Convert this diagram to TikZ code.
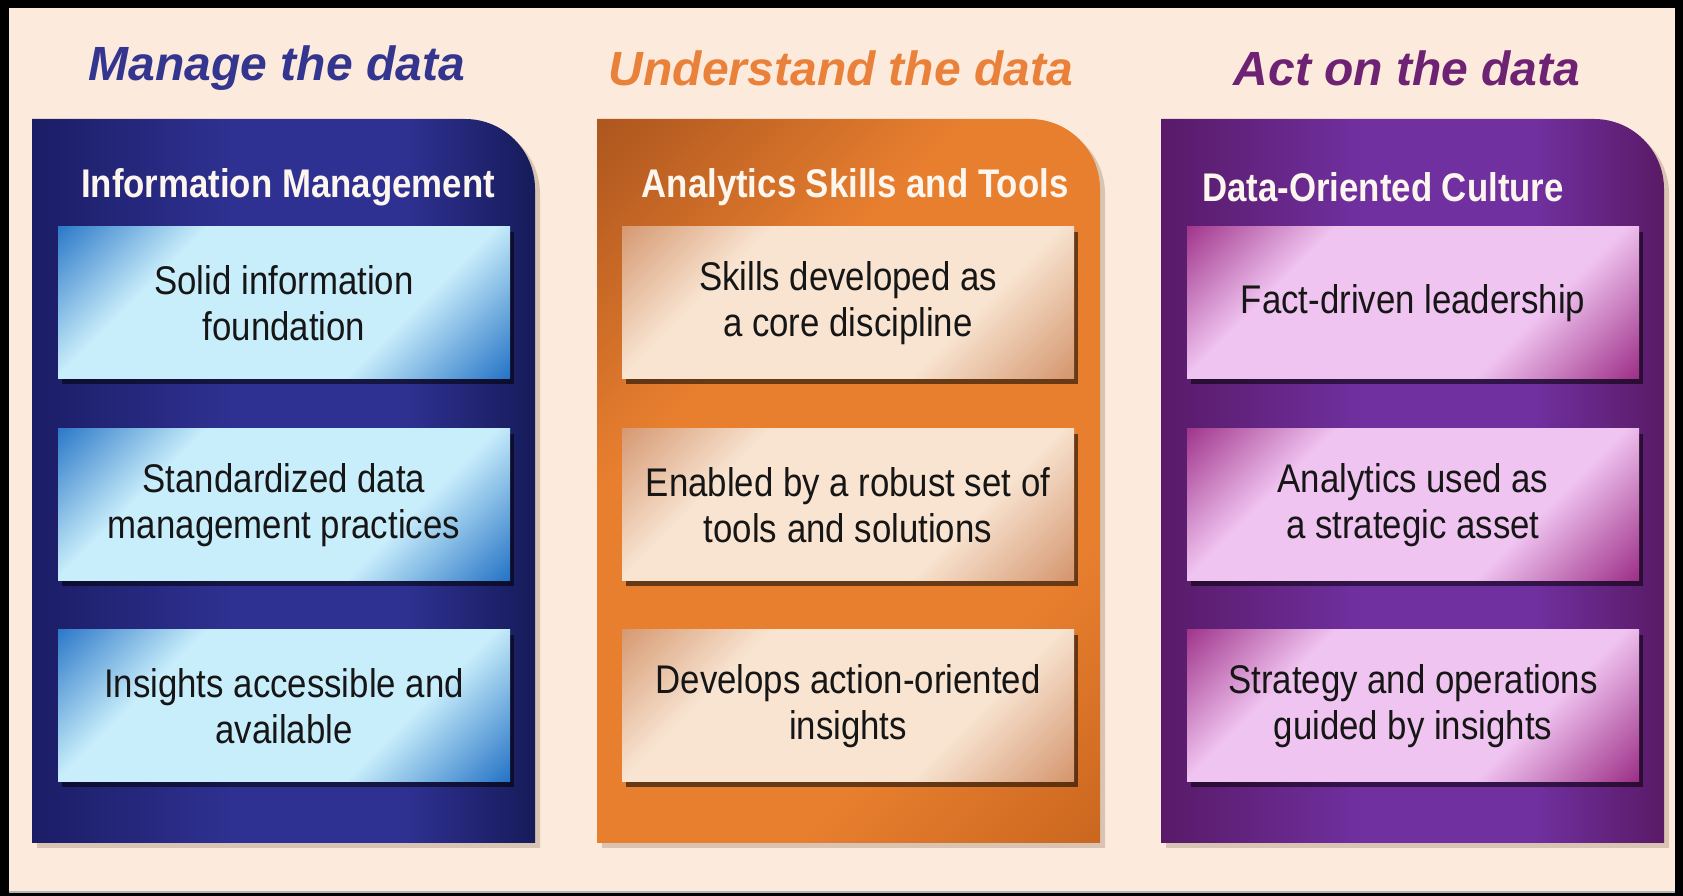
\documentclass[tikz,border=0pt]{standalone}
\usepackage{fontspec}
\setmainfont{Liberation Sans}
\newfontfamily\narrowfont[FakeStretch=0.87]{Liberation Sans}
\usetikzlibrary{shadows}

\definecolor{bgcream}{HTML}{FCEBDC}
\definecolor{headblue}{HTML}{33358F}
\definecolor{headorange}{HTML}{E9813A}
\definecolor{headpurple}{HTML}{6E2273}
\definecolor{titlewhite}{HTML}{FDF6EE}
\definecolor{itemtext}{HTML}{161616}
\definecolor{shadowbrown}{HTML}{8A6A55}

% panel colours
\definecolor{pblueA}{HTML}{1B1D66}
\definecolor{pblueB}{HTML}{2F3192}
\definecolor{pblueC}{HTML}{161B5A}
\definecolor{porangeA}{HTML}{AE571F}
\definecolor{porangeB}{HTML}{E87F2F}
\definecolor{porangeC}{HTML}{C9661E}
\definecolor{ppurpleA}{HTML}{581A68}
\definecolor{ppurpleB}{HTML}{7030A0}
\definecolor{ppurpleC}{HTML}{5A1A66}

% box colours
\definecolor{bblueL}{HTML}{C9EEFB}
\definecolor{bblueD}{HTML}{1F6FC4}
\definecolor{borangeL}{HTML}{F8E4D1}
\definecolor{borangeD}{HTML}{D3936A}
\definecolor{bpurpleL}{HTML}{F0C4F0}
\definecolor{bpurpleD}{HTML}{9A2A84}

\pgfdeclarehorizontalshading{bluepanel}{100bp}{color(0bp)=(pblueA); color(25bp)=(pblueA); color(45bp)=(pblueB); color(62bp)=(pblueB); color(75bp)=(pblueC); color(100bp)=(pblueC)}
\pgfdeclarehorizontalshading{orangepanel}{100bp}{color(0bp)=(porangeA); color(15bp)=(porangeA); color(36bp)=(porangeB); color(68bp)=(porangeB); color(86bp)=(porangeC); color(100bp)=(porangeC)}
\pgfdeclarehorizontalshading{purplepanel}{100bp}{color(0bp)=(ppurpleA); color(25bp)=(ppurpleA); color(45bp)=(ppurpleB); color(62bp)=(ppurpleB); color(75bp)=(ppurpleC); color(100bp)=(ppurpleC)}
\pgfdeclarehorizontalshading{blueitem}{100bp}{color(0bp)=(bblueD); color(13bp)=(bblueD); color(32bp)=(bblueL); color(66bp)=(bblueL); color(86bp)=(bblueD); color(100bp)=(bblueD)}
\pgfdeclarehorizontalshading{orangeitem}{100bp}{color(0bp)=(borangeD); color(13bp)=(borangeD); color(32bp)=(borangeL); color(66bp)=(borangeL); color(86bp)=(borangeD); color(100bp)=(borangeD)}
\pgfdeclarehorizontalshading{purpleitem}{100bp}{color(0bp)=(bpurpleD); color(13bp)=(bpurpleD); color(32bp)=(bpurpleL); color(66bp)=(bpurpleL); color(86bp)=(bpurpleD); color(100bp)=(bpurpleD)}

\tikzset{
	heading/.style={font=\fontsize{48}{56}\selectfont\bfseries\itshape},
	paneltitle/.style={font=\narrowfont\fontsize{40}{48}\selectfont\bfseries, text=titlewhite},
	panel/.style={drop shadow={shadow xshift=5pt, shadow yshift=-5pt, opacity=.3, fill=shadowbrown}},
	itembox/.style={shade, shading angle=-45, minimum width=452pt, minimum height=152pt, inner sep=0pt,
		align=center, font=\narrowfont\fontsize{40}{46}\selectfont, text=itemtext,
		drop shadow={shadow xshift=4pt, shadow yshift=-5pt, opacity=.55, fill=black}},
}

\begin{document}
\begin{tikzpicture}[x=1pt,y=1pt]
		\useasboundingbox (0,0) rectangle (1683,896);
		\fill[black] (0,0) rectangle (1683,896);
		\fill[bgcream] (9,4) rectangle (1675,888);
		\draw[gray!60, line width=1.5pt] (9,4) -- (1675,4);

		% headings
		\node[heading, text=headblue] (H1) at (277,828) {Manage the data};
		\node[heading, text=headorange] (H2) at (841,828) {Understand the data};
		\node[heading, text=headpurple] (H3) at (1407,828) {Act on the data};

		% panels
		\shade[panel, shading=bluepanel] (32,53) -- (32,777) -- (465,777) arc[start angle=90, end angle=0, radius=70pt] -- (535,53) -- cycle;
		\shade[panel, shading=orangepanel, shading angle=-45] (597,53) -- (597,777) -- (1030,777) arc[start angle=90, end angle=0, radius=70pt] -- (1100,53) -- cycle;
		\shade[panel, shading=purplepanel] (1161,53) -- (1161,777) -- (1594,777) arc[start angle=90, end angle=0, radius=70pt] -- (1664,53) -- cycle;

		\node[paneltitle] (T1) at (288,709) {Information Management};
		\node[paneltitle] (T2) at (855,709) {Analytics Skills and Tools};
		\node[paneltitle] (T3) at (1383,709) {Data-Oriented Culture};

		% boxes
		\node[itembox, shading=blueitem] (B1) at (284,593) {Solid information\\foundation};
		\node[itembox, shading=blueitem] (B2) at (284,391) {Standardized data\\management practices};
		\node[itembox, shading=blueitem] (B3) at (284,190) {Insights accessible and\\available};

		\node[itembox, shading=orangeitem] (C1) at (848,593) {Skills developed as\\a core discipline};
		\node[itembox, shading=orangeitem] (C2) at (848,391) {Enabled by a robust set of\\tools and solutions};
		\node[itembox, shading=orangeitem] (C3) at (848,190) {Develops action-oriented\\insights};

		\node[itembox, shading=purpleitem] (D1) at (1413,593) {Fact-driven leadership};
		\node[itembox, shading=purpleitem] (D2) at (1413,391) {Analytics used as\\a strategic asset};
		\node[itembox, shading=purpleitem] (D3) at (1413,190) {Strategy and operations\\guided by insights};
	\end{tikzpicture}
\end{document}
